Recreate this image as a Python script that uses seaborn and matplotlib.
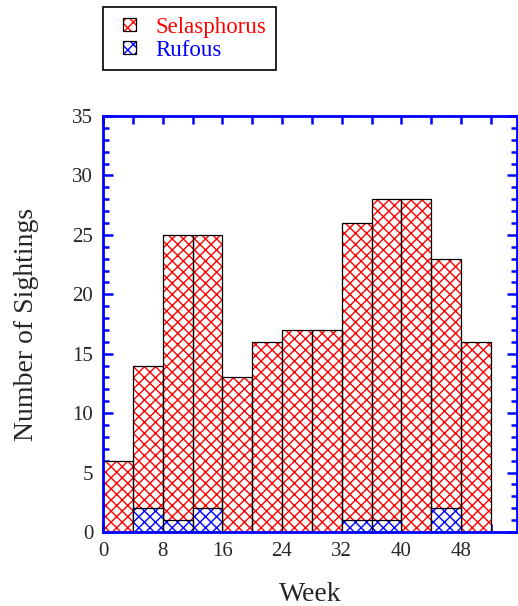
"""Hummingbird sightings by week: Selasphorus total with the Rufous share overlaid."""

import matplotlib
matplotlib.use("Agg")
import matplotlib.pyplot as plt
import numpy as np
import pandas as pd
import seaborn as sns
from matplotlib.legend_handler import HandlerPatch
from matplotlib.patches import Patch, Rectangle
from matplotlib.ticker import MultipleLocator

# 4-week bins, start of each bin
week_start = [0, 4, 8, 12, 16, 20, 24, 28, 32, 36, 40, 44, 48]
selasphorus = [6, 14, 25, 25, 13, 16, 17, 17, 26, 28, 28, 23, 16]
rufous = [0, 2, 1, 2, 0, 0, 0, 0, 1, 1, 0, 2, 0]
bin_width = 4
series_labels = ["Selasphorus", "Rufous"]
series_colors = ["red", "blue"]

sns.set_theme(style="ticks")
plt.rcParams["font.family"] = ["Liberation Serif", "DejaVu Serif"]
plt.rcParams["hatch.linewidth"] = 1.0
HATCH = "xxx"

df = pd.DataFrame({"mid": np.array(week_start, dtype=float) + bin_width / 2,
                   "Selasphorus": selasphorus, "Rufous": rufous})

fig = plt.figure(figsize=(5.18, 6.06), dpi=100)
ax = fig.add_axes([103 / 518, 1 - 532 / 606, 414 / 518, 416 / 606])


def hatched_hist(col, color):
    """Draw one series as a hatched histogram and outline it in black."""
    before = len(ax.patches)
    sns.histplot(data=df, x="mid", weights=col, binwidth=bin_width,
                 binrange=(week_start[0], week_start[-1] + bin_width), ax=ax,
                 color=color, element="bars", fill=True)
    for p in ax.patches[before:]:
        p.set_facecolor("white")
        p.set_edgecolor(color)
        p.set_hatch(HATCH)
        p.set_linewidth(0)
        p.set_alpha(1)
        if p.get_height() > 0:
            ax.add_patch(Rectangle(p.get_xy(), p.get_width(), p.get_height(),
                                   fill=False, edgecolor="black", lw=0.9))


hatched_hist("Selasphorus", series_colors[0])
hatched_hist("Rufous", series_colors[1])

ax.set_xlim(0, 55.5)
ax.set_ylim(0, 35)
ax.xaxis.set_major_locator(MultipleLocator(8))
ax.xaxis.set_minor_locator(MultipleLocator(4))
ax.yaxis.set_major_locator(MultipleLocator(5))
ax.yaxis.set_minor_locator(MultipleLocator(1))
ax.tick_params(which="both", direction="in", top=True, right=True,
               color="blue", width=1.8, labelsize=15, pad=7)
ax.tick_params(axis="y", which="major", length=7)
ax.tick_params(axis="y", which="minor", length=4)
ax.tick_params(axis="x", which="both", length=6)
for s in ax.spines.values():
    s.set_visible(True)
    s.set_color("blue")
    s.set_linewidth(2)

ax.set_xlabel("Week", fontsize=20, labelpad=15)
ax.set_ylabel("Number of Sightings", fontsize=20, labelpad=24)


def small_square(legend, orig_handle, xdescent, ydescent, width, height, fontsize):
    side = 9.4
    return Rectangle((-xdescent + 8, -ydescent + (height - side) / 2), side, side)


handles = [(Patch(facecolor="white", edgecolor=c, hatch=HATCH, lw=0),
            Patch(fill=False, edgecolor="black", lw=0.9)) for c in series_colors]
leg = fig.legend(handles, series_labels, loc="upper left",
                 bbox_to_anchor=(103 / 518, 1 - 7 / 606), fontsize=16.5,
                 frameon=True, fancybox=False, framealpha=1, edgecolor="black",
                 handlelength=1.5, handleheight=0.8, handletextpad=0.4,
                 borderpad=0.4, borderaxespad=0, labelspacing=0.05,
                 labelcolor=series_colors,
                 handler_map={Patch: HandlerPatch(patch_func=small_square)})
leg.get_frame().set_linewidth(1.2)

fig.savefig("out.png", dpi=100)
